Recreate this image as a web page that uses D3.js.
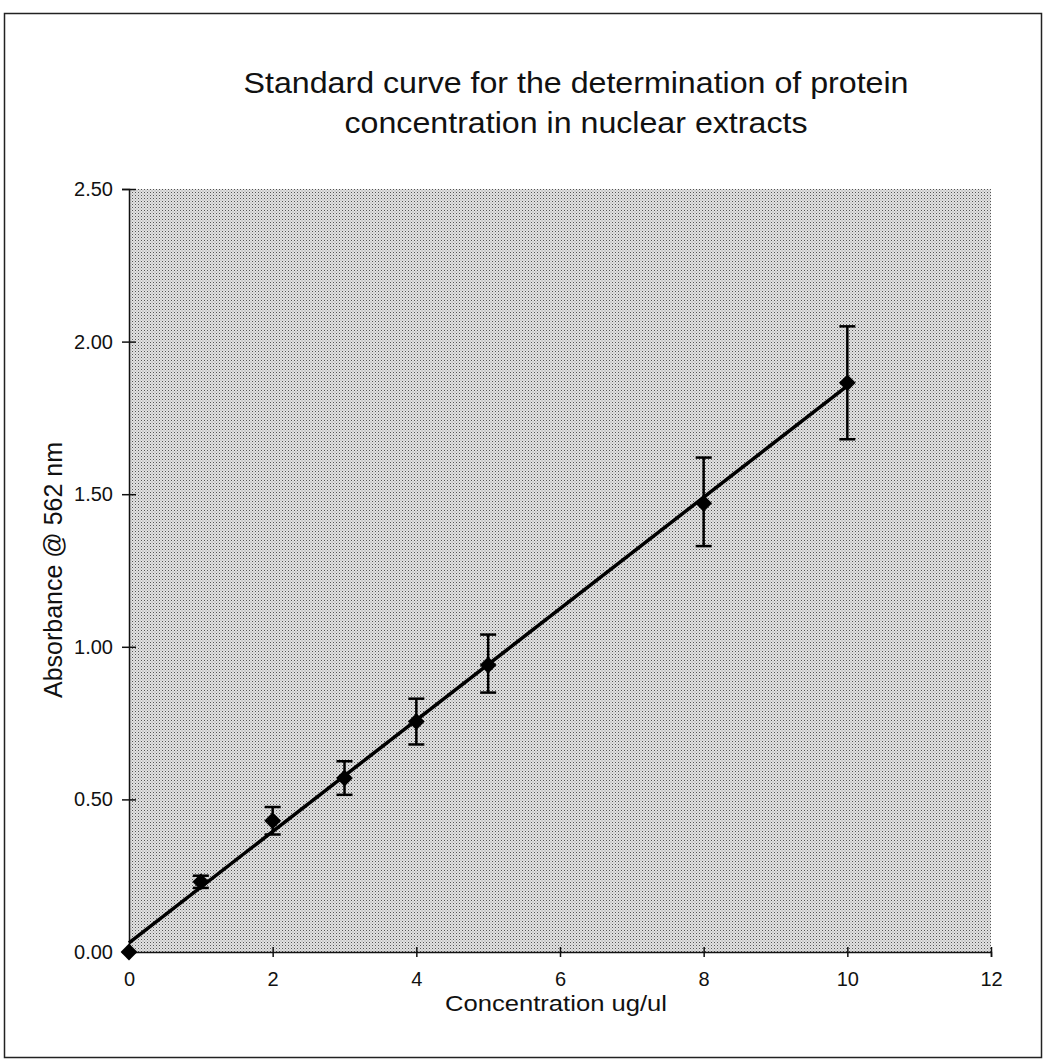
<!DOCTYPE html>
<html>
<head>
<meta charset="utf-8">
<script src="https://cdn.jsdelivr.net/npm/d3@7"></script>
<style>
  body { margin: 0; background: #fff; }
  text { font-family: "Liberation Sans", Arial, sans-serif; fill: #111; }
</style>
</head>
<body>
<div id="chart"></div>
<script>
// concentration (ug/ul) and mean absorbance @ 562 nm
const conc = [0, 1, 2, 3, 4, 5, 8, 10];
const absorbance = [0.00, 0.23, 0.43, 0.57, 0.755, 0.94, 1.47, 1.865];
const errUpper = [0.00, 0.25, 0.475, 0.625, 0.83, 1.04, 1.62, 2.05];
const errLower = [0.00, 0.21, 0.385, 0.515, 0.68, 0.85, 1.33, 1.68];

// fitted line end points
const fitX = [0, 10];
const fitY = [0.03, 1.855];

const xTicks = [0, 2, 4, 6, 8, 10, 12];
const yTicks = [0, 0.5, 1.0, 1.5, 2.0, 2.5];

const w = 1044;
const h = 1063;

const svg = d3.select("#chart")
  .append("svg")
  .attr("width", w)
  .attr("height", h);

// halftone-like background for the plot area
const defs = svg.append("defs");
const pat = defs.append("pattern")
  .attr("id", "dots")
  .attr("width", 3)
  .attr("height", 3)
  .attr("patternUnits", "userSpaceOnUse");
pat.append("rect").attr("width", 3).attr("height", 3).attr("fill", "#e2e2e2");
pat.append("rect").attr("x", 0).attr("y", 0).attr("width", 1).attr("height", 1).attr("fill", "#555");
pat.append("rect").attr("x", 1.5).attr("y", 1.5).attr("width", 1).attr("height", 1).attr("fill", "#999");

// outer frame
svg.append("rect")
  .attr("x", 4.5)
  .attr("y", 13.5)
  .attr("width", 1037)
  .attr("height", 1044)
  .attr("fill", "none")
  .attr("stroke", "#222")
  .attr("stroke-width", 1.5);

const xScale = d3.scaleLinear()
  .domain([0, 12])
  .range([129, 991]);

const yScale = d3.scaleLinear()
  .domain([0, 2.5])
  .range([952, 189]);

svg.append("rect")
  .attr("x", xScale(0))
  .attr("y", yScale(2.5))
  .attr("width", xScale(12) - xScale(0))
  .attr("height", yScale(0) - yScale(2.5))
  .attr("fill", "url(#dots)");

// title
svg.append("text")
  .attr("x", 576)
  .attr("y", 93)
  .attr("text-anchor", "middle")
  .attr("textLength", 665)
  .attr("lengthAdjust", "spacingAndGlyphs")
  .style("font-size", "29px")
  .text("Standard curve for the determination of protein");
svg.append("text")
  .attr("x", 576)
  .attr("y", 133)
  .attr("text-anchor", "middle")
  .attr("textLength", 463)
  .attr("lengthAdjust", "spacingAndGlyphs")
  .style("font-size", "29px")
  .text("concentration in nuclear extracts");

// axes with ticks crossing the line
const xAxis = d3.axisBottom(xScale)
  .tickValues(xTicks)
  .tickFormat(d3.format("d"))
  .tickSize(5)
  .tickPadding(15);

const yAxis = d3.axisLeft(yScale)
  .tickValues(yTicks)
  .tickFormat(d3.format(".2f"))
  .tickSize(7)
  .tickPadding(9);

const gx = svg.append("g")
  .attr("transform", "translate(0," + yScale(0) + ")")
  .call(xAxis);
gx.select(".domain").attr("stroke", "#111").attr("stroke-width", 1.5);
gx.selectAll(".tick line").attr("y1", -5).attr("stroke", "#111").attr("stroke-width", 1.5);
gx.selectAll(".tick text").style("font-size", "20px").attr("fill", "#111");

const gy = svg.append("g")
  .attr("transform", "translate(" + xScale(0) + ",0)")
  .call(yAxis);
gy.select(".domain").attr("stroke", "#111").attr("stroke-width", 1.5);
gy.selectAll(".tick line").attr("x1", 7).attr("stroke", "#111").attr("stroke-width", 1.5);
gy.selectAll(".tick text").style("font-size", "20px").attr("fill", "#111");

// axis titles
svg.append("text")
  .attr("x", 556)
  .attr("y", 1011)
  .attr("text-anchor", "middle")
  .attr("textLength", 222)
  .attr("lengthAdjust", "spacingAndGlyphs")
  .style("font-size", "22px")
  .text("Concentration ug/ul");

svg.append("text")
  .attr("transform", "translate(62,570) rotate(-90)")
  .attr("text-anchor", "middle")
  .style("font-size", "25px")
  .text("Absorbance @ 562 nm");

// fitted line
svg.append("line")
  .attr("x1", xScale(fitX[0]))
  .attr("y1", yScale(fitY[0]))
  .attr("x2", xScale(fitX[1]))
  .attr("y2", yScale(fitY[1]))
  .attr("stroke", "#000")
  .attr("stroke-width", 3.5);

// error bars
const points = conc.map((c, i) => ({ x: c, y: absorbance[i], hi: errUpper[i], lo: errLower[i] }));
const bars = svg.append("g").selectAll("g")
  .data(points.filter(d => d.hi > d.lo))
  .enter()
  .append("g")
  .attr("stroke", "#000")
  .attr("stroke-width", 2.5);

bars.append("line")
  .attr("x1", d => xScale(d.x))
  .attr("x2", d => xScale(d.x))
  .attr("y1", d => yScale(d.hi))
  .attr("y2", d => yScale(d.lo));
bars.append("line")
  .attr("x1", d => xScale(d.x) - 8)
  .attr("x2", d => xScale(d.x) + 8)
  .attr("y1", d => yScale(d.hi))
  .attr("y2", d => yScale(d.hi));
bars.append("line")
  .attr("x1", d => xScale(d.x) - 8)
  .attr("x2", d => xScale(d.x) + 8)
  .attr("y1", d => yScale(d.lo))
  .attr("y2", d => yScale(d.lo));

// diamond markers
svg.append("g").selectAll("path")
  .data(points)
  .enter()
  .append("path")
  .attr("d", d3.symbol().type(d3.symbolDiamond2).size(180))
  .attr("transform", d => "translate(" + xScale(d.x) + "," + yScale(d.y) + ")")
  .attr("fill", "#000");
</script>
</body>
</html>
